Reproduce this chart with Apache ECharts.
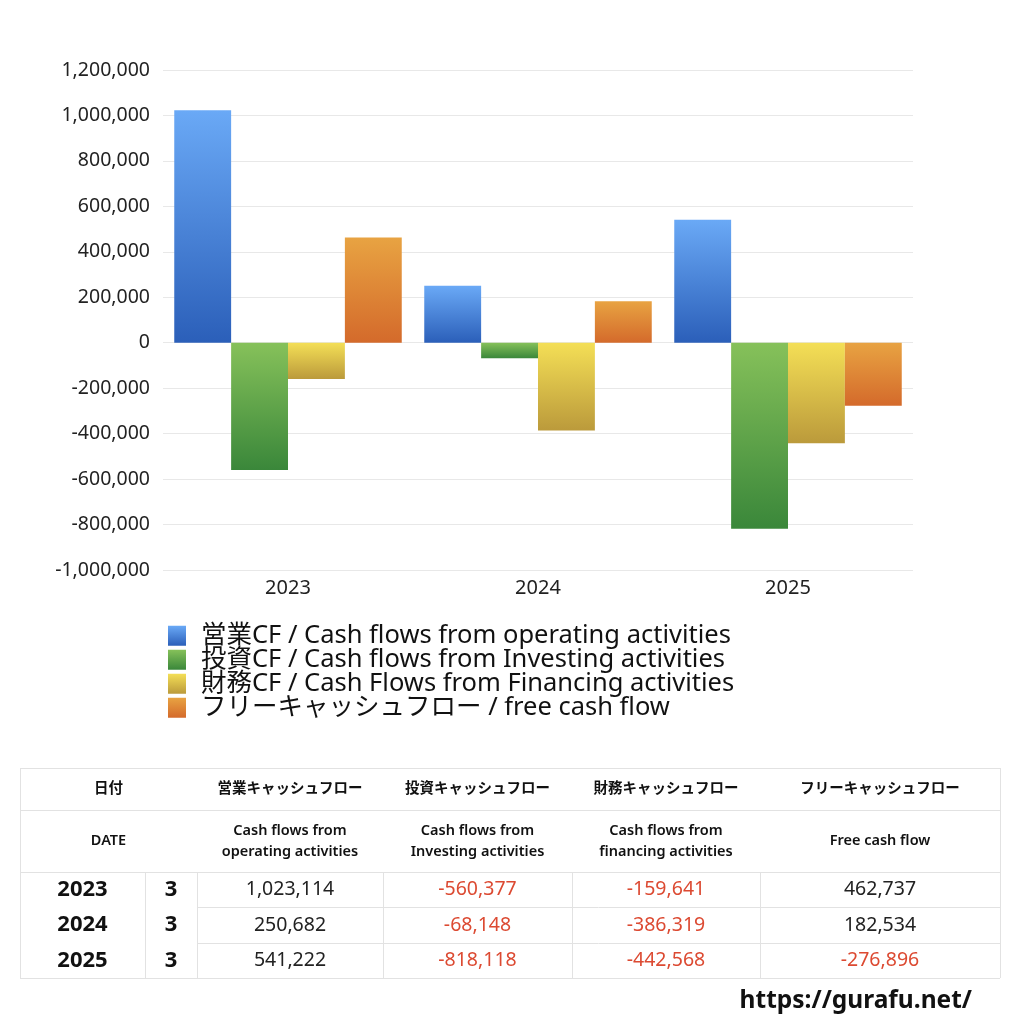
<!DOCTYPE html>
<html><head><meta charset="utf-8">
<script src="https://cdn.jsdelivr.net/npm/echarts@6/dist/echarts.min.js"></script>
<style>html,body{margin:0;padding:0;background:#fff}#c{width:1024px;height:1024px}</style>
</head><body><div id="c"></div>
<script>
const categories = ['2023', '2024', '2025'];
const months = ['3', '3', '3'];
const operating = [1023114, 250682, 541222];
const investing = [-560377, -68148, -818118];
const financing = [-159641, -386319, -442568];
const freeCF = [462737, 182534, -276896];
const seriesNames = [
  '営業CF / Cash flows from operating activities',
  '投資CF / Cash flows from Investing activities',
  '財務CF / Cash Flows from Financing activities',
  'フリーキャッシュフロー / free cash flow'
];
const headerJa = ['日付', '営業キャッシュフロー', '投資キャッシュフロー', '財務キャッシュフロー', 'フリーキャッシュフロー'];
const headerEn = ['DATE', 'Cash flows from\noperating activities', 'Cash flows from\nInvesting activities', 'Cash flows from\nfinancing activities', 'Free cash flow'];
const yMin = -1000000, yMax = 1200000, yStep = 200000;
const siteUrl = 'https://gurafu.net/';

const FONT = '"Noto Sans", "Noto Sans CJK JP", sans-serif';
function grad(top, bottom) {
  return new echarts.graphic.LinearGradient(0, 0, 0, 1, [{offset: 0, color: top}, {offset: 1, color: bottom}]);
}
const colors = [
  grad('#6aa9f6', '#2b5fb9'),
  grad('#86c15a', '#3a873a'),
  grad('#f4df56', '#bb9a3b'),
  grad('#e8a342', '#d46a2b')
];
const values = [operating, investing, financing, freeCF];
const fmt = v => v.toLocaleString('en-US');

// Table layout
const colX = [20, 145, 197, 383, 572, 760, 1000];
const rowY = [768, 810, 872, 907, 943, 978];
const lineColor = '#e2e2e2';
const g = [];
function hline(x1, x2, y) { g.push({type: 'line', shape: {x1: x1, y1: y + 0.5, x2: x2, y2: y + 0.5}, style: {stroke: lineColor, lineWidth: 1}, silent: true}); }
function vline(x, y1, y2) { g.push({type: 'line', shape: {x1: x + 0.5, y1: y1, x2: x + 0.5, y2: y2}, style: {stroke: lineColor, lineWidth: 1}, silent: true}); }
function txt(cx, cy, s, size, weight, color, lh) {
  g.push({type: 'text', x: cx, y: cy, silent: true, style: {text: s, fontSize: size, fontWeight: weight, fill: color, fontFamily: FONT, align: 'center', verticalAlign: 'middle', lineHeight: lh || size * 1.2}});
}
hline(colX[0], colX[6], rowY[0]);
hline(colX[0], colX[6], rowY[1]);
hline(colX[0], colX[6], rowY[2]);
hline(colX[0], colX[6], rowY[5]);
hline(colX[2], colX[6], rowY[3]);
hline(colX[2], colX[6], rowY[4]);
vline(colX[0], rowY[0], rowY[5]);
vline(colX[6], rowY[0], rowY[5]);
for (let i = 1; i < 6; i++) vline(colX[i], rowY[2], rowY[5]);
const hCenters = [(colX[0] + colX[2]) / 2];
for (let i = 2; i < 6; i++) hCenters.push((colX[i] + colX[i + 1]) / 2);
headerJa.forEach((s, i) => txt(hCenters[i], (rowY[0] + rowY[1]) / 2, s, 14.5, 'bold', '#111'));
headerEn.forEach((s, i) => txt(hCenters[i], (rowY[1] + rowY[2]) / 2, s, 14.5, 600, '#111', 21));
categories.forEach((c, r) => {
  const cy = (rowY[2 + r] + rowY[3 + r]) / 2;
  txt((colX[0] + colX[1]) / 2, cy, c, 22, 'bold', '#111');
  txt((colX[1] + colX[2]) / 2, cy, months[r], 22, 'bold', '#111');
  values.forEach((arr, k) => {
    const v = arr[r];
    txt((colX[2 + k] + colX[3 + k]) / 2, cy, fmt(v), 19.5, 'normal', v < 0 ? '#dc4a32' : '#222');
  });
});
g.push({type: 'text', right: 52, top: 989, silent: true, style: {text: siteUrl, fontSize: 24.5, fontWeight: 'bold', fill: '#111', fontFamily: FONT}});

const LEG_FS = 25.5;
const chart = echarts.init(document.getElementById('c'));
chart.setOption({
  animation: false,
  textStyle: {fontFamily: FONT},
  grid: {left: 163, right: 111, top: 70, bottom: 454, containLabel: false},
  xAxis: {
    type: 'category', data: categories,
    axisLine: {show: false}, axisTick: {show: false},
    axisLabel: {fontSize: 20, color: '#222', margin: 8}
  },
  yAxis: {
    type: 'value', min: yMin, max: yMax, interval: yStep,
    axisLine: {show: false}, axisTick: {show: false},
    axisLabel: {fontSize: 19.5, color: '#222', margin: 13, formatter: v => fmt(v)},
    splitLine: {lineStyle: {color: '#e8e8e8', width: 1}}
  },
  legend: {
    orient: 'vertical', left: 163, top: 618, itemGap: 24 - LEG_FS,
    itemWidth: 18, itemHeight: 20, icon: 'rect',
    textStyle: {fontSize: LEG_FS, color: '#111', padding: [0, 0, 0, 10], fontFamily: FONT},
    data: seriesNames
  },
  series: values.map((arr, k) => ({
    type: 'bar', name: seriesNames[k], data: arr,
    barGap: '0%', barCategoryGap: '9%',
    itemStyle: {color: colors[k]}
  })),
  graphic: g
});
</script></body></html>
